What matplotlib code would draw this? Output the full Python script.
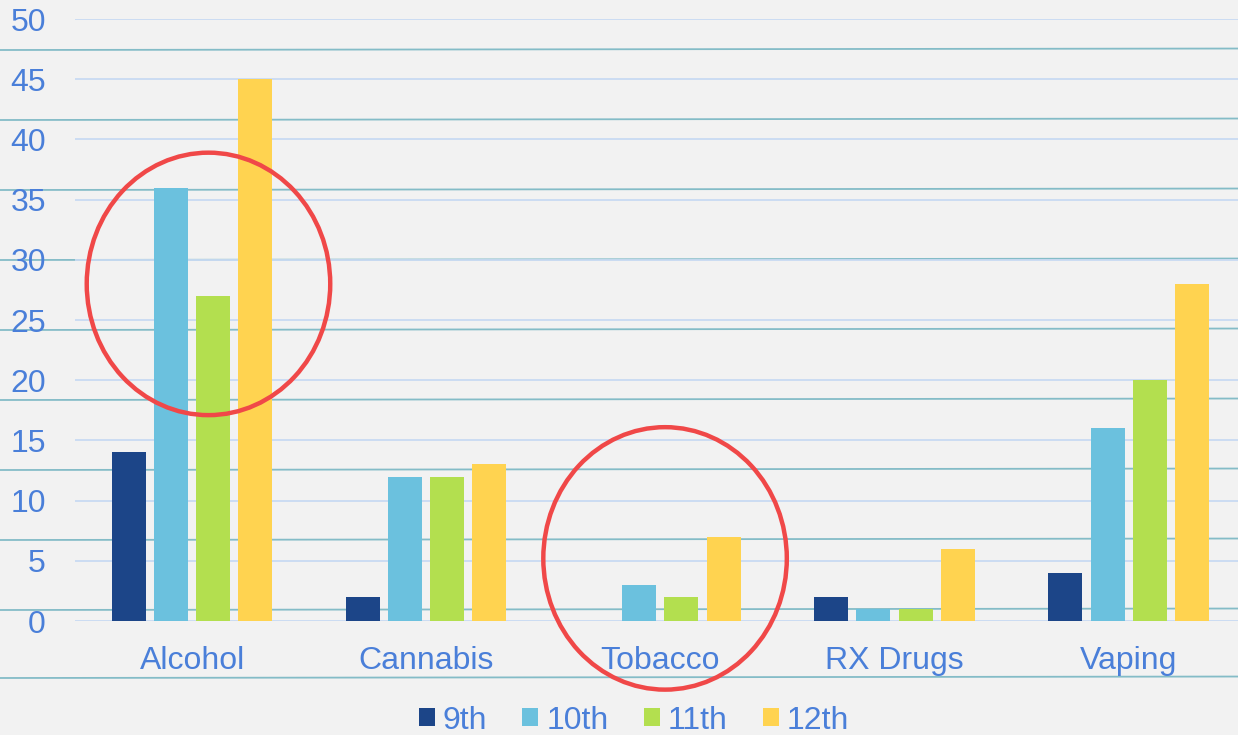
import matplotlib.pyplot as plt
from matplotlib.lines import Line2D
from matplotlib.patches import Ellipse
import numpy as np

plt.rcParams["font.family"] = ["Liberation Sans", "DejaVu Sans"]

categories = ["Alcohol", "Cannabis", "Tobacco", "RX Drugs", "Vaping"]
grades = ["9th", "10th", "11th", "12th"]
grade_9 = [14, 2, 0, 2, 4]
grade_10 = [36, 12, 3, 1, 16]
grade_11 = [27, 12, 2, 1, 20]
grade_12 = [45, 13, 7, 6, 28]
colors = ["#1c4588", "#6bc1de", "#b3df4f", "#ffd350"]

TEXT = "#4a7fd9"

fig = plt.figure(figsize=(12.38, 7.35), dpi=100)
fig.patch.set_facecolor("#f2f2f2")

# lined-paper rules behind the chart
for ypix in [50, 120, 190, 260, 330, 400, 470, 540, 610, 678]:
    y = 1 - ypix / 735
    fig.add_artist(Line2D([0, 1], [y, y + 0.002], color="#3b98ab", lw=1.3,
                          alpha=0.6, zorder=0))

ax = fig.add_axes([0.0606, 0.1551, 0.9394, 0.819])
ax.set_facecolor("none")

x = np.arange(len(categories))
width = 0.145
step = 0.18
series = [grade_9, grade_10, grade_11, grade_12]
for i, (vals, c, lab) in enumerate(zip(series, colors, grades)):
    ax.bar(x + (i - 1.5) * step, vals, width, color=c, label=lab, zorder=3)

ax.set_xlim(-0.5, 4.467)
ax.set_ylim(0, 50)
ax.set_yticks(range(0, 51, 5))
ax.set_xticks(x)
ax.set_xticklabels(categories)
ax.grid(axis="y", color="#c8daf2", lw=1.3, zorder=1)
ax.tick_params(axis="y", length=0, pad=21, labelsize=23, labelcolor=TEXT)
ax.tick_params(axis="x", length=0, pad=18, labelsize=23, labelcolor=TEXT)
for s in ax.spines.values():
    s.set_visible(False)

# red rings around Alcohol and Tobacco
for cx, cy in [(0.07, 28.0), (2.02, 5.2)]:
    ax.add_patch(Ellipse((cx, cy), 1.04, 21.8, fill=False, ec="#f04848",
                         lw=3.2, zorder=5, clip_on=False))

leg = fig.legend(loc="lower center", bbox_to_anchor=(0.512, -0.04), ncol=4,
                 frameon=False, fontsize=23, labelcolor=TEXT,
                 handlelength=0.5, handleheight=0.5, handletextpad=0.25,
                 columnspacing=1.1)

fig.savefig("out.png", dpi=100, facecolor=fig.get_facecolor())
